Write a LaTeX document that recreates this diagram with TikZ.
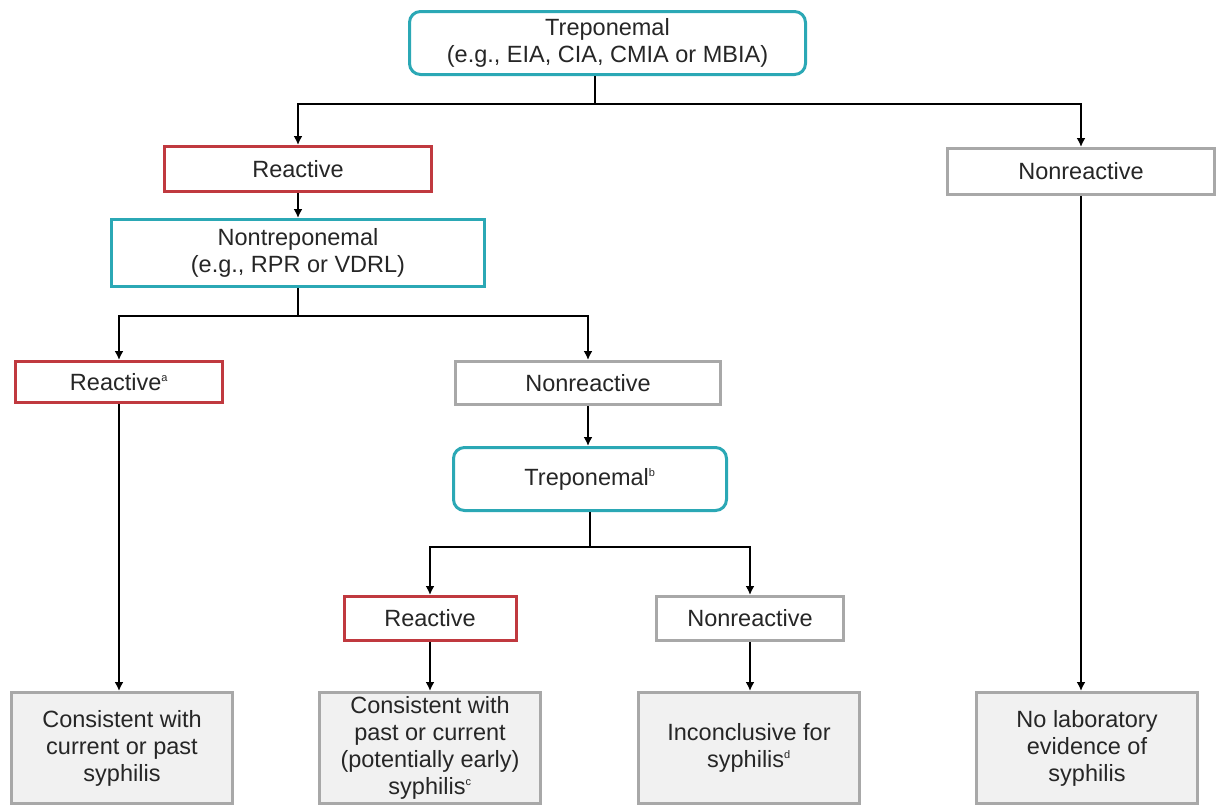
\documentclass[tikz,border=0pt]{standalone}
\usepackage{fontspec}
\setmainfont{Liberation Sans}
\usetikzlibrary{arrows.meta}
\definecolor{teal1}{HTML}{2BA8B5}
\definecolor{red1}{HTML}{C0393F}
\definecolor{gray1}{HTML}{A8A8A8}
\definecolor{fill1}{HTML}{F1F1F1}
\definecolor{txt}{HTML}{262626}
\newcommand{\sups}[1]{\textsuperscript{\fontsize{11}{11}\selectfont #1}}
\begin{document}
\begin{tikzpicture}[x=1pt,y=-1pt,
  base/.style={line width=3pt, align=center, text=txt, inner sep=0pt, outer sep=1.5pt,
    font=\fontsize{23.5}{27}\selectfont},
  testbox/.style={base, draw=teal1},
  rbox/.style={base, draw=red1, fill=white},
  nbox/.style={base, draw=gray1, fill=white},
  resbox/.style={base, draw=gray1, fill=fill1, minimum width=221pt, minimum height=111pt},
  arr/.style={line width=2.8pt, -{Latex[length=9pt,width=9pt]}},
  ln/.style={line width=2.8pt}]
\useasboundingbox (0,0) rectangle (1217,807);

\node[testbox, rounded corners=11pt, minimum width=396pt, minimum height=63pt] (top) at (607.5,43)
  {Treponemal\\(e.g., EIA, CIA, CMIA or MBIA)};
\node[rbox, minimum width=267pt, minimum height=45pt] (r1) at (298,169) {Reactive};
\node[nbox, minimum width=267pt, minimum height=46pt] (n1) at (1081,171.5) {Nonreactive};
\node[testbox, minimum width=373pt, minimum height=67pt] (nt) at (298,253)
  {Nontreponemal\\(e.g., RPR or VDRL)};
\node[rbox, minimum width=207pt, minimum height=41pt] (ra) at (119,382) {Reactive\sups{a}};
\node[nbox, minimum width=265pt, minimum height=43pt] (nr2) at (588,383) {Nonreactive};
\node[testbox, rounded corners=11pt, minimum width=273pt, minimum height=63pt] (tb) at (590,479)
  {Treponemal\sups{b}};
\node[rbox, minimum width=172pt, minimum height=44pt] (r3) at (430,618.5) {Reactive};
\node[nbox, minimum width=187pt, minimum height=44pt] (nr3) at (750,618.5) {Nonreactive};
\node[resbox] (b1) at (122,748) {Consistent with\\current or past\\syphilis};
\node[resbox] (b2) at (430,748) {Consistent with\\past or current\\(potentially early)\\syphilis\sups{c}};
\node[resbox] (b3) at (749,748) {Inconclusive for\\syphilis\sups{d}};
\node[resbox] (b4) at (1087,748) {No laboratory\\evidence of\\syphilis};

\coordinate (j1) at (595,104);
\coordinate (j2) at (298,316);
\coordinate (j3) at (590,547);

\draw[ln] (top.south -| j1) -- (j1);
\draw[arr] (j1) -| (r1.north);
\draw[arr] (j1) -| (n1.north);
\draw[arr] (r1.south) -- (nt.north);
\draw[ln] (nt.south) -- (j2);
\draw[arr] (j2) -| (ra.north);
\draw[arr] (j2) -| (nr2.north);
\draw[arr] (nr2.south) -- (nr2.south |- tb.north);
\draw[ln] (tb.south) -- (j3);
\draw[arr] (j3) -| (r3.north);
\draw[arr] (j3) -| (nr3.north);
\draw[arr] (ra.south) -- (ra.south |- b1.north);
\draw[arr] (r3.south) -- (r3.south |- b2.north);
\draw[arr] (nr3.south) -- (nr3.south |- b3.north);
\draw[arr] (n1.south) -- (n1.south |- b4.north);
\end{tikzpicture}
\end{document}
